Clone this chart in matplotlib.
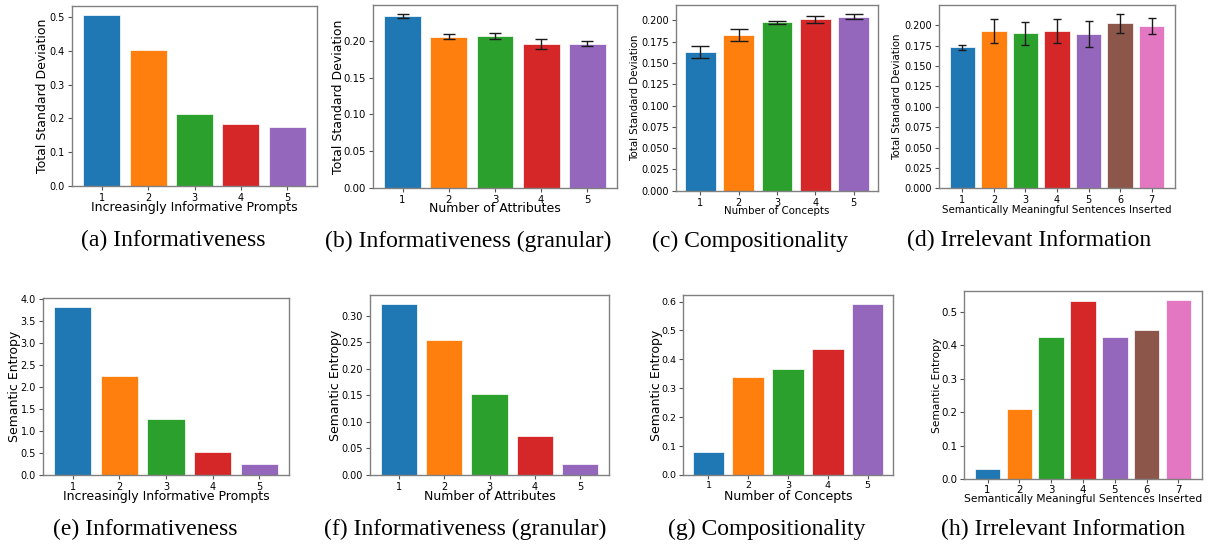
import matplotlib
matplotlib.use("Agg")
import matplotlib.pyplot as plt
from matplotlib.ticker import MultipleLocator, FormatStrFormatter

W, H = 1210, 545

# ---------------- data ----------------
x5 = [1, 2, 3, 4, 5]
x7 = [1, 2, 3, 4, 5, 6, 7]

std_inform = [0.507, 0.403, 0.212, 0.182, 0.175]
std_granular = [0.234, 0.206, 0.207, 0.196, 0.196]
std_granular_err = [0.003, 0.003, 0.004, 0.007, 0.0035]
std_comp = [0.163, 0.183, 0.198, 0.2015, 0.2045]
std_comp_err = [0.007, 0.007, 0.0016, 0.0039, 0.0033]
std_irrel = [0.173, 0.193, 0.1906, 0.193, 0.1898, 0.2025, 0.1993]
std_irrel_err = [0.0029, 0.0146, 0.0141, 0.0143, 0.016, 0.0115, 0.0098]

se_inform = [3.83, 2.256, 1.264, 0.52, 0.244]
se_granular = [0.3226, 0.254, 0.1534, 0.0736, 0.0208]
se_comp = [0.0798, 0.3375, 0.3666, 0.436, 0.593]
se_irrel = [0.0318, 0.2097, 0.4253, 0.5318, 0.4264, 0.4474, 0.5368]

xlab_inform = "Increasingly Informative Prompts"
xlab_attr = "Number of Attributes"
xlab_conc = "Number of Concepts"
xlab_sent = "Semantically Meaningful Sentences Inserted"
ylab_std = "Total Standard Deviation"
ylab_se = "Semantic Entropy"

captions = ["(a) Informativeness", "(b) Informativeness (granular)",
            "(c) Compositionality", "(d) Irrelevant Information",
            "(e) Informativeness", "(f) Informativeness (granular)",
            "(g) Compositionality", "(h) Irrelevant Information"]

colors = plt.rcParams['axes.prop_cycle'].by_key()['color']

fig = plt.figure(figsize=(W / 100, H / 100), dpi=100)


def make_axes(l, t, r, b):
    return fig.add_axes([l / W, 1 - b / H, (r - l) / W, (b - t) / H])


panels = [
    dict(box=(72, 6, 317, 186), x=x5, y=std_inform, err=None, xl=xlab_inform, yl=ylab_std,
         tfs=7, lfs=9, ylx=43, xly=207.5, cap=0, step=0.1, fmt="%.1f", pad=2),
    dict(box=(373, 5, 617, 188), x=x5, y=std_granular, err=std_granular_err, xl=xlab_attr, yl=ylab_std,
         tfs=7.3, lfs=9, ylx=338, xly=209, cap=4.3, step=0.05, fmt="%.2f", pad=2),
    dict(box=(676, 5, 878, 190.7), x=x5, y=std_comp, err=std_comp_err, xl=xlab_conc, yl=ylab_std,
         tfs=7, lfs=7.4, ylx=635, xly=211, cap=6.8, step=0.025, fmt="%.3f", pad=2),
    dict(box=(939, 5.3, 1175, 188.3), x=x7, y=std_irrel, err=std_irrel_err, xl=xlab_sent, yl=ylab_std,
         tfs=7, lfs=7.4, ylx=897, xly=210, cap=2.7, step=0.025, fmt="%.3f", pad=2),
    dict(box=(43, 298.3, 289, 475), x=x5, y=se_inform, err=None, xl=xlab_inform, yl=ylab_se,
         tfs=7, lfs=9, ylx=15, xly=496.5, cap=0, step=0.5, fmt="%.1f", pad=2),
    dict(box=(370, 295.3, 609, 475), x=x5, y=se_granular, err=None, xl=xlab_attr, yl=ylab_se,
         tfs=7, lfs=9, ylx=336, xly=496, cap=0, step=0.05, fmt="%.2f", pad=2),
    dict(box=(683, 295, 893, 475), x=x5, y=se_comp, err=None, xl=xlab_conc, yl=ylab_se,
         tfs=6.8, lfs=9, ylx=656, xly=496.5, cap=0, step=0.1, fmt="%.1f", pad=1.5),
    dict(box=(964, 290.7, 1202, 479.3), x=x7, y=se_irrel, err=None, xl=xlab_sent, yl=ylab_se,
         tfs=7.4, lfs=7.7, ylx=937, xly=499.5, cap=0, step=0.1, fmt="%.1f", pad=1.2),
]

for p in panels:
    l, t, r, b = p["box"]
    ax = make_axes(l, t, r, b)
    n = len(p["x"])
    kw = {}
    if p["err"] is not None:
        kw = dict(yerr=p["err"], capsize=p["cap"],
                  error_kw=dict(elinewidth=1.0, ecolor="#1a1a1a", capthick=1.0))
    ax.bar(p["x"], p["y"], width=0.8, color=colors[:n], edgecolor="white",
           linewidth=0.5, **kw)
    ax.set_xticks(p["x"])
    ax.yaxis.set_major_locator(MultipleLocator(p["step"]))
    ax.yaxis.set_major_formatter(FormatStrFormatter(p["fmt"]))
    ax.tick_params(labelsize=p["tfs"], length=3, width=0.8, color="#555555", pad=2)
    ax.tick_params(axis="x", pad=p["pad"])
    for s in ax.spines.values():
        s.set_color("#808080")
        s.set_linewidth(1.0)
    ax.set_xlabel(p["xl"], fontsize=p["lfs"], va="center")
    ax.set_ylabel(p["yl"], fontsize=p["lfs"], va="center")
    ax.yaxis.set_label_coords((p["ylx"] - l) / (r - l), 0.5)
    ax.xaxis.set_label_coords(0.5, (b - p["xly"]) / (b - t))

cap_pos = [(173, 246.5), (468, 246.5), (750, 246.5), (1029, 246.5),
           (145, 535.5), (465, 535.5), (767, 535.5), (1063, 535.5)]
for txt, (cx, cy) in zip(captions, cap_pos):
    fig.text(cx / W, 1 - cy / H, txt, ha="center", va="baseline",
             fontsize=17, family="Liberation Serif")

fig.savefig("out.png", dpi=100)
